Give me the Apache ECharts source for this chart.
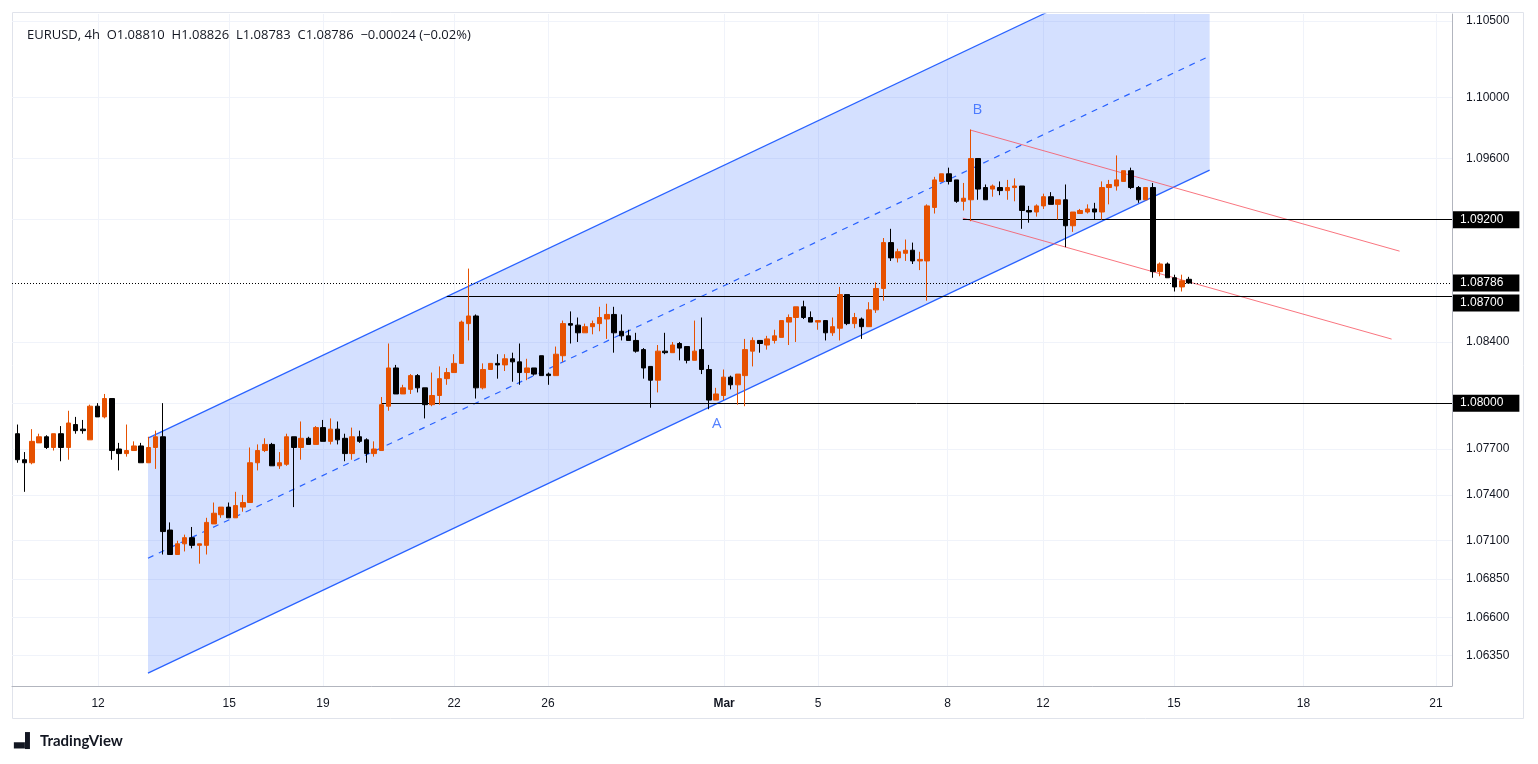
<!DOCTYPE html>
<html>
<head>
<meta charset="utf-8">
<script src="https://cdn.jsdelivr.net/npm/echarts@6/dist/echarts.min.js"></script>
<style>
  html, body { margin: 0; padding: 0; background: #fff; }
  #chart { width: 1538px; height: 764px; }
</style>
</head>
<body>
<div id="chart"></div>
<script>
// EURUSD 4h candles (one per 4h bar)
var opens = [1.0780,1.0763,1.0761,1.0774,1.0778,1.0771,1.0780,1.0771,1.0786,1.0783,1.0776,1.0798,1.0791,1.0803,1.0770,1.0767,1.0769,1.0772,1.0761,1.0771,
  1.0778,1.0717,1.0701,1.0708,1.0712,1.0707,1.0707,1.0721,1.0727,1.0732,1.0725,1.0732,1.0735,1.0761,1.0769,1.0773,1.0759,1.0760,1.0778,1.0771,
  1.0777,1.0773,1.0784,1.0775,1.0783,1.0777,1.0767,1.0778,1.0776,1.0767,1.0769,1.0798,1.0823,1.0806,1.0809,1.0818,1.0810,1.0799,1.0805,1.0816,
  1.0820,1.0826,1.0852,1.0857,1.0810,1.0822,1.0826,1.0825,1.0829,1.0827,1.0820,1.0823,1.0831,1.0819,1.0818,1.0831,1.0852,1.0851,1.0846,1.0850,
  1.0852,1.0855,1.0858,1.0847,1.0844,1.0841,1.0835,1.0824,1.0815,1.0834,1.0833,1.0839,1.0837,1.0828,1.0835,1.0822,1.0802,1.0805,1.0817,1.0812,
  1.0818,1.0834,1.0841,1.0838,1.0841,1.0843,1.0853,1.0856,1.0863,1.0856,1.0853,1.0854,1.0846,1.0849,1.0871,1.0852,1.0855,1.0850,1.0861,1.0875,
  1.0905,1.0895,1.0898,1.0900,1.0893,1.0893,1.0928,1.0945,1.0950,1.0946,1.0932,1.0933,1.0960,1.0941,1.0940,1.0941,1.0939,1.0941,1.0942,1.0926,
  1.0925,1.0929,1.0935,1.0930,1.0933,1.0916,1.0924,1.0925,1.0927,1.0925,1.0941,1.0942,1.0945,1.0952,1.0941,1.0933,1.0941,1.0886,1.0891,1.0882,
  1.0876,1.08810];
var closes = [1.0763,1.0761,1.0775,1.0778,1.0771,1.0780,1.0771,1.0787,1.0782,1.0782,1.0798,1.0791,1.0803,1.0769,1.0767,1.0769,1.0772,1.0761,1.0771,1.0778,
  1.0716,1.0701,1.0708,1.0712,1.0707,1.0708,1.0722,1.0728,1.0732,1.0725,1.0733,1.0735,1.0761,1.0769,1.0773,1.0759,1.0761,1.0778,1.0771,1.0777,
  1.0773,1.0784,1.0775,1.0783,1.0776,1.0767,1.0778,1.0775,1.0767,1.0770,1.0799,1.0823,1.0806,1.0810,1.0818,1.0810,1.0799,1.0805,1.0816,1.0820,
  1.0826,1.0853,1.0857,1.0810,1.0822,1.0826,1.0825,1.0829,1.0827,1.0820,1.0823,1.0819,1.0818,1.0818,1.0832,1.0852,1.0851,1.0846,1.0850,1.0852,
  1.0856,1.0858,1.0846,1.0844,1.0841,1.0834,1.0823,1.0815,1.0834,1.0833,1.0838,1.0836,1.0828,1.0834,1.0822,1.0802,1.0806,1.0817,1.0812,1.0819,
  1.0835,1.0841,1.0839,1.0842,1.0844,1.0854,1.0856,1.0863,1.0856,1.0853,1.0854,1.0846,1.0850,1.0871,1.0852,1.0856,1.0850,1.0861,1.0875,1.0905,
  1.0895,1.0899,1.0900,1.0893,1.0894,1.0929,1.0946,1.0950,1.0945,1.0932,1.0934,1.0960,1.0940,1.0933,1.0942,1.0939,1.0941,1.0942,1.0926,1.0925,
  1.0929,1.0935,1.0930,1.0933,1.0916,1.0925,1.0926,1.0927,1.0925,1.0941,1.0943,1.0946,1.0952,1.0941,1.0933,1.0941,1.0886,1.0891,1.0882,1.0876,
  1.0880,1.08786];
var highs = [1.0786,1.0768,1.0783,1.0780,1.0779,1.0780,1.0785,1.0795,1.0791,1.0789,1.0799,1.0800,1.0806,1.0803,1.0774,1.0786,1.0775,1.0774,1.0778,1.0782,
  1.0800,1.0722,1.0710,1.0714,1.0719,1.0708,1.0725,1.0735,1.0732,1.0735,1.0742,1.0740,1.0771,1.0773,1.0777,1.0774,1.0768,1.0780,1.0778,1.0788,
  1.0778,1.0785,1.0789,1.0790,1.0788,1.0780,1.0784,1.0782,1.0777,1.0775,1.0804,1.0839,1.0825,1.0812,1.0819,1.0819,1.0810,1.0820,1.0824,1.0823,
  1.0832,1.0854,1.0888,1.0858,1.0826,1.0826,1.0832,1.0832,1.0833,1.0839,1.0829,1.0823,1.0831,1.0820,1.0837,1.0854,1.0860,1.0856,1.0852,1.0854,
  1.0863,1.0865,1.0863,1.0858,1.0848,1.0846,1.0836,1.0824,1.0838,1.0846,1.0840,1.0840,1.0837,1.0854,1.0856,1.0825,1.0810,1.0822,1.0818,1.0819,
  1.0842,1.0843,1.0841,1.0844,1.0848,1.0854,1.0858,1.0863,1.0867,1.0860,1.0854,1.0854,1.0856,1.0876,1.0871,1.0859,1.0856,1.0866,1.0879,1.0908,
  1.0914,1.0901,1.0907,1.0905,1.0899,1.0930,1.0948,1.0950,1.0954,1.0946,1.0944,1.0979,1.0960,1.0943,1.0943,1.0945,1.0946,1.0947,1.0942,1.0929,
  1.0930,1.0937,1.0938,1.0933,1.0943,1.0925,1.0927,1.0930,1.0931,1.0945,1.0946,1.0962,1.0952,1.0954,1.0942,1.0941,1.0944,1.0892,1.0892,1.0884,
  1.0884,1.08826];
var lows = [1.0761,1.0742,1.0760,1.0774,1.0770,1.0769,1.0762,1.0763,1.0780,1.0780,1.0776,1.0791,1.0790,1.0763,1.0756,1.0765,1.0769,1.0761,1.0761,1.0757,
  1.0701,1.0701,1.0701,1.0703,1.0705,1.0695,1.0701,1.0721,1.0725,1.0725,1.0725,1.0729,1.0735,1.0756,1.0768,1.0759,1.0757,1.0759,1.0732,1.0763,
  1.0773,1.0773,1.0775,1.0773,1.0773,1.0762,1.0763,1.0774,1.0761,1.0765,1.0769,1.0795,1.0806,1.0806,1.0806,1.0807,1.0790,1.0798,1.0799,1.0812,
  1.0820,1.0826,1.0841,1.0803,1.0809,1.0822,1.0816,1.0821,1.0814,1.0812,1.0815,1.0818,1.0818,1.0812,1.0818,1.0827,1.0839,1.0840,1.0846,1.0845,
  1.0847,1.0842,1.0833,1.0841,1.0841,1.0833,1.0816,1.0797,1.0807,1.0832,1.0833,1.0828,1.0826,1.0828,1.0819,1.0796,1.0802,1.0802,1.0809,1.0799,
  1.0798,1.0824,1.0833,1.0835,1.0839,1.0843,1.0838,1.0840,1.0855,1.0853,1.0848,1.0841,1.0844,1.0841,1.0851,1.0849,1.0842,1.0850,1.0859,1.0867,
  1.0893,1.0892,1.0893,1.0891,1.0887,1.0867,1.0924,1.0945,1.0943,1.0931,1.0926,1.0919,1.0933,1.0933,1.0935,1.0936,1.0933,1.0932,1.0914,1.0918,
  1.0922,1.0927,1.0930,1.0920,1.0902,1.0912,1.0924,1.0924,1.0920,1.0920,1.0930,1.0939,1.0945,1.0940,1.0931,1.0933,1.0882,1.0883,1.0882,1.0873,
  1.0873,1.08783];

// x axis: bar index, day labels at the first bar of each shown day
var xTickPos = [11.1, 29.1, 42.0, 60.0, 72.9, 97.1, 110.0, 127.8, 140.9, 158.9, 176.7, 194.9];
var xTickText = ['12', '15', '19', '22', '26', 'Mar', '5', '8', '12', '15', '18', '21'];
var yTicks = [1.105, 1.100, 1.096, 1.092, 1.084, 1.080, 1.077, 1.074, 1.071, 1.0685, 1.066, 1.0635];
var levels = [1.092, 1.087, 1.080];           // black horizontal levels
var levelStart = [129.9, 59.0, 50.0];          // bar index where each level starts
var levelShift = [0, 7, 0];                    // box nudged down so it clears the last-price box
var lastPrice = 1.08786;

// ascending channel: [bar index, price]
var chLowerL = [17.95, 1.06234], chLowerR = [163.8, 1.09524];
var chMidL = [17.95, 1.06986], chMidR = [163.8, 1.10270];
var chUpperL = [17.95, 1.07771], chUpperR = [163.8, 1.11060];
// descending red channel
var redUpper = [[131.0, 1.09785], [189.9, 1.08994]];
var redLower = [[129.9, 1.09210], [188.8, 1.08419]];

var X_MIN = -0.73, X_MAX = 197.1, Y_MIN = 1.0615, Y_MAX = 1.10545;

var candles = opens.map(function (o, i) {
    return [i, o, closes[i], lows[i], highs[i]];
});

// clip the channel band at the top of the plot
function clipTop(pts, yMax) {
    var out = [];
    for (var i = 0; i < pts.length; i++) {
        var a = pts[i], b = pts[(i + 1) % pts.length];
        var ain = a[1] <= yMax, bin = b[1] <= yMax;
        if (ain) out.push(a);
        if (ain !== bin) {
            var t = (yMax - a[1]) / (b[1] - a[1]);
            out.push([a[0] + t * (b[0] - a[0]), yMax]);
        }
    }
    return out;
}
var bandPts = clipTop([chLowerL, chLowerR, chUpperR, chUpperL], Y_MAX);

var gridLines = [];
yTicks.forEach(function (v) {
    gridLines.push([{ coord: [X_MIN, v] }, { coord: [X_MAX, v] }]);
});
xTickPos.forEach(function (p) {
    gridLines.push([{ coord: [p, Y_MIN] }, { coord: [p, Y_MAX] }]);
});

var boxLabel = {
    show: true, position: 'end', distance: 1,
    backgroundColor: '#000', color: '#fff', fontSize: 12, fontFamily: 'Liberation Sans',
    padding: [3, 16, 2, 7],
    formatter: function (p) { return p.value.toFixed(5); }
};

var levelLines = levels.map(function (v, i) {
    return [{ coord: [levelStart[i], v] },
            { coord: [X_MAX, v], value: v, label: { offset: [0, levelShift[i]] } }];
});
levelLines.push([{ coord: [X_MIN, lastPrice], lineStyle: { type: [1, 2], color: '#000' } },
                 { coord: [X_MAX, lastPrice], value: lastPrice }]);

var chart = echarts.init(document.getElementById('chart'), null, { renderer: 'canvas' });
chart.setOption({
    animation: false,
    backgroundColor: '#fff',
    title: {
        text: 'EURUSD, 4h  O1.08810  H1.08826  L1.08783  C1.08786  \u22120.00024 (\u22120.02%)',
        left: 22, top: 24,
        textStyle: { fontSize: 13, fontWeight: 'normal', color: '#131722', fontFamily: 'Open Sans' }
    },
    grid: { left: 12, right: 86, top: 14, bottom: 78 },
    xAxis: {
        type: 'value', min: X_MIN, max: X_MAX,
        splitLine: { show: false },
        axisLine: { show: true, onZero: false, lineStyle: { color: '#b2b5be' } },
        axisTick: { show: false },
        axisLabel: {
            customValues: xTickPos, margin: 12, fontSize: 12, color: '#131722', fontFamily: 'Liberation Sans',
            formatter: function (v) {
                var k = 0;
                xTickPos.forEach(function (p, i) { if (Math.abs(p - v) < Math.abs(xTickPos[k] - v)) k = i; });
                return xTickText[k] === 'Mar' ? '{b|Mar}' : xTickText[k];
            },
            rich: { b: { fontWeight: 'bold', fontSize: 12, color: '#131722' } }
        }
    },
    yAxis: {
        type: 'value', position: 'right', min: Y_MIN, max: Y_MAX, scale: true,
        splitLine: { show: false },
        axisLine: { show: true, onZero: false, lineStyle: { color: '#b2b5be' } },
        axisTick: { show: false },
        axisLabel: {
            customValues: yTicks.filter(function (v) { return levels.indexOf(v) < 0; }),
            margin: 14, fontSize: 12, color: '#131722', fontFamily: 'Liberation Sans',
            formatter: function (v) { return v.toFixed(5); }
        }
    },
    graphic: [
        { type: 'rect', shape: { x: 12.5, y: 12.5, width: 1511, height: 706 }, style: { fill: 'none', stroke: '#e0e3eb', lineWidth: 1 }, silent: true, z: -1 },
        { type: 'text', left: 14, top: 734, style: { text: '\u2583\u258C', fontSize: 14, fill: '#131722' } },
        { type: 'text', left: 40, top: 734, style: { text: 'TradingView', fontSize: 15, fontWeight: 'bold', fill: '#131722', fontFamily: 'Lato' } }
    ],
    series: [
        {   // grid lines
            type: 'line', data: [], silent: true, z: 0,
            markLine: { symbol: 'none', silent: true, label: { show: false }, z: 0,
                lineStyle: { color: '#f0f3fa', width: 1, type: 'solid' }, data: gridLines }
        },
        {   // channel band
            type: 'custom', silent: true, data: [0], z: 1,
            renderItem: function (params, api) {
                return {
                    type: 'polygon',
                    shape: { points: bandPts.map(function (p) { return api.coord(p); }) },
                    style: { fill: 'rgba(41,98,255,0.2)' }
                };
            }
        },
        { type: 'line', data: [chLowerL, chLowerR], symbol: 'none', silent: true, z: 3, lineStyle: { color: '#2962ff', width: 1.2 } },
        { type: 'line', data: [chUpperL, chUpperR], symbol: 'none', silent: true, z: 3, lineStyle: { color: '#2962ff', width: 1.2 } },
        { type: 'line', data: [chMidL, chMidR], symbol: 'none', silent: true, z: 3, lineStyle: { color: '#2962ff', width: 1.2, type: [6, 6] } },
        { type: 'line', data: redUpper, symbol: 'none', silent: true, z: 3, lineStyle: { color: '#f7525f', width: 1, opacity: 0.8 } },
        { type: 'line', data: redLower, symbol: 'none', silent: true, z: 3, lineStyle: { color: '#f7525f', width: 1, opacity: 0.8 } },
        {   // horizontal levels with price boxes
            type: 'line', data: [], z: 4,
            markLine: { symbol: 'none', silent: true, label: boxLabel,
                lineStyle: { color: '#000', width: 1, type: 'solid' }, data: levelLines }
        },
        {
            type: 'candlestick', data: candles, z: 5, barWidth: 5,
            encode: { x: 0, y: [1, 2, 3, 4] },
            itemStyle: { color: '#e65100', color0: '#000000', borderColor: '#e65100', borderColor0: '#000000', borderWidth: 1 }
        },
        {   // A / B labels
            type: 'scatter', symbolSize: 0, silent: true, z: 6,
            data: [[96.1, 1.07863, 'A'], [131.9, 1.09916, 'B']],
            label: { show: true, position: 'inside', color: '#2962ff', fontSize: 15, fontFamily: 'Open Sans',
                formatter: function (p) { return p.value[2]; } }
        }
    ]
});
</script>
</body>
</html>
